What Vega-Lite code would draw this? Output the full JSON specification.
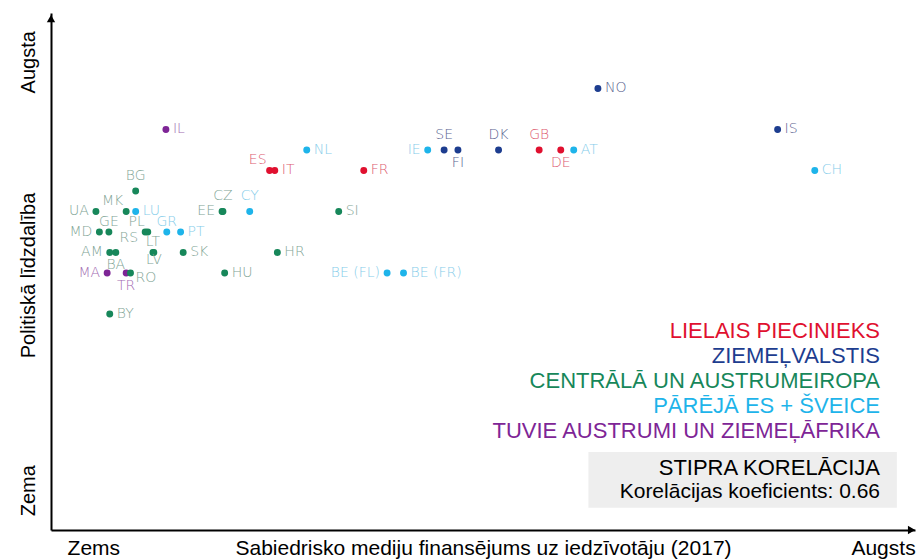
{
  "$schema": "https://vega.github.io/schema/vega-lite/v6.json",
  "width": 864,
  "height": 517,
  "autosize": {"type": "none"},
  "padding": {"left": 51, "top": 13, "right": 5, "bottom": 30},
  "background": "white",
  "config": {"view": {"stroke": null}},
  "data": {"values": [
    {"code": "NO", "group": "ZIEMEĻVALSTIS", "funding": 63.3, "participation": 21},
    {"code": "IS", "group": "ZIEMEĻVALSTIS", "funding": 84.1, "participation": 19},
    {"code": "IL", "group": "TUVIE AUSTRUMI UN ZIEMEĻĀFRIKA", "funding": 13.3, "participation": 19},
    {"code": "CH", "group": "PĀRĒJĀ ES + ŠVEICE", "funding": 88.4, "participation": 17},
    {"code": "NL", "group": "PĀRĒJĀ ES + ŠVEICE", "funding": 29.6, "participation": 18},
    {"code": "IE", "group": "PĀRĒJĀ ES + ŠVEICE", "funding": 43.6, "participation": 18},
    {"code": "SE", "group": "ZIEMEĻVALSTIS", "funding": 45.5, "participation": 18},
    {"code": "FI", "group": "ZIEMEĻVALSTIS", "funding": 47.1, "participation": 18},
    {"code": "DK", "group": "ZIEMEĻVALSTIS", "funding": 51.8, "participation": 18},
    {"code": "GB", "group": "LIELAIS PIECINIEKS", "funding": 56.5, "participation": 18},
    {"code": "DE", "group": "LIELAIS PIECINIEKS", "funding": 59.0, "participation": 18},
    {"code": "AT", "group": "PĀRĒJĀ ES + ŠVEICE", "funding": 60.5, "participation": 18},
    {"code": "ES", "group": "LIELAIS PIECINIEKS", "funding": 25.3, "participation": 17},
    {"code": "IT", "group": "LIELAIS PIECINIEKS", "funding": 25.9, "participation": 17},
    {"code": "FR", "group": "LIELAIS PIECINIEKS", "funding": 36.2, "participation": 17},
    {"code": "BG", "group": "CENTRĀLĀ UN AUSTRUMEIROPA", "funding": 9.8, "participation": 16},
    {"code": "UA", "group": "CENTRĀLĀ UN AUSTRUMEIROPA", "funding": 5.2, "participation": 15},
    {"code": "MK", "group": "CENTRĀLĀ UN AUSTRUMEIROPA", "funding": 8.7, "participation": 15},
    {"code": "LU", "group": "PĀRĒJĀ ES + ŠVEICE", "funding": 9.8, "participation": 15},
    {"code": "EE", "group": "CENTRĀLĀ UN AUSTRUMEIROPA", "funding": 19.8, "participation": 15},
    {"code": "CZ", "group": "CENTRĀLĀ UN AUSTRUMEIROPA", "funding": 19.9, "participation": 15},
    {"code": "CY", "group": "PĀRĒJĀ ES + ŠVEICE", "funding": 23.0, "participation": 15},
    {"code": "SI", "group": "CENTRĀLĀ UN AUSTRUMEIROPA", "funding": 33.3, "participation": 15},
    {"code": "MD", "group": "CENTRĀLĀ UN AUSTRUMEIROPA", "funding": 5.6, "participation": 14},
    {"code": "GE", "group": "CENTRĀLĀ UN AUSTRUMEIROPA", "funding": 6.7, "participation": 14},
    {"code": "RS", "group": "CENTRĀLĀ UN AUSTRUMEIROPA", "funding": 10.9, "participation": 14},
    {"code": "PL", "group": "CENTRĀLĀ UN AUSTRUMEIROPA", "funding": 11.2, "participation": 14},
    {"code": "GR", "group": "PĀRĒJĀ ES + ŠVEICE", "funding": 13.4, "participation": 14},
    {"code": "PT", "group": "PĀRĒJĀ ES + ŠVEICE", "funding": 15.0, "participation": 14},
    {"code": "AM", "group": "CENTRĀLĀ UN AUSTRUMEIROPA", "funding": 6.8, "participation": 13},
    {"code": "BA", "group": "CENTRĀLĀ UN AUSTRUMEIROPA", "funding": 7.5, "participation": 13},
    {"code": "LT", "group": "CENTRĀLĀ UN AUSTRUMEIROPA", "funding": 11.8, "participation": 13},
    {"code": "LV", "group": "CENTRĀLĀ UN AUSTRUMEIROPA", "funding": 11.9, "participation": 13},
    {"code": "SK", "group": "CENTRĀLĀ UN AUSTRUMEIROPA", "funding": 15.3, "participation": 13},
    {"code": "HR", "group": "CENTRĀLĀ UN AUSTRUMEIROPA", "funding": 26.2, "participation": 13},
    {"code": "MA", "group": "TUVIE AUSTRUMI UN ZIEMEĻĀFRIKA", "funding": 6.5, "participation": 12},
    {"code": "TR", "group": "TUVIE AUSTRUMI UN ZIEMEĻĀFRIKA", "funding": 8.7, "participation": 12},
    {"code": "RO", "group": "CENTRĀLĀ UN AUSTRUMEIROPA", "funding": 9.2, "participation": 12},
    {"code": "HU", "group": "CENTRĀLĀ UN AUSTRUMEIROPA", "funding": 20.1, "participation": 12},
    {"code": "BE (FL)", "group": "PĀRĒJĀ ES + ŠVEICE", "funding": 38.9, "participation": 12},
    {"code": "BE (FR)", "group": "PĀRĒJĀ ES + ŠVEICE", "funding": 40.8, "participation": 12},
    {"code": "BY", "group": "CENTRĀLĀ UN AUSTRUMEIROPA", "funding": 6.8, "participation": 10}
  ]},
  "layer": [
    {
      "mark": {"type": "circle", "opacity": 1, "size": 48},
      "encoding": {
        "x": {"field": "funding", "type": "quantitative", "scale": {"domain": [0, 100], "nice": false, "zero": false},
          "axis": {"values": [4.9, 96.3], "labelExpr": "datum.value < 50 ? 'Zems' : 'Augsts'", "grid": false, "ticks": false, "tickSize": 0,
            "domainColor": "black", "domainWidth": 2, "labelFont": "Liberation Sans", "labelFontSize": 21, "labelColor": "black",
            "labelBaseline": "middle", "labelPadding": 18, "labelAlign": "center", "labelFlush": false, "labelOverlap": false,
            "title": "Sabiedrisko mediju finansējums uz iedzīvotāju (2017)", "titleFont": "Liberation Sans", "titleFontSize": 21,
            "titleFontWeight": "normal", "titleColor": "black", "titleY": 18, "titleBaseline": "middle", "titleAnchor": "middle"}},
        "y": {"field": "participation", "type": "quantitative", "scale": {"domain": [-0.54, 24.68], "nice": false, "zero": false},
          "axis": {"values": [1.4, 22.3], "labelExpr": "datum.value < 10 ? 'Zema' : 'Augsta'", "grid": false, "ticks": false, "tickSize": 0,
            "domainColor": "black", "domainWidth": 2, "labelFont": "Liberation Sans", "labelFontSize": 20, "labelColor": "black",
            "labelAngle": -90, "labelAlign": "center", "labelBaseline": "middle", "labelPadding": 23, "labelFlush": false, "labelOverlap": false,
            "title": "Politiskā līdzdalība", "titleFont": "Liberation Sans", "titleFontSize": 20, "titleFontWeight": "normal", "titleColor": "black",
            "titleAngle": -90, "titleX": -23, "titleY": 262, "titleAlign": "center", "titleBaseline": "middle"}},
        "color": {"field": "group", "type": "nominal",
          "scale": {"domain": ["LIELAIS PIECINIEKS", "ZIEMEĻVALSTIS", "CENTRĀLĀ UN AUSTRUMEIROPA", "PĀRĒJĀ ES + ŠVEICE", "TUVIE AUSTRUMI UN ZIEMEĻĀFRIKA"],
            "range": ["#E0102F", "#1D3D8F", "#17875A", "#1EB4EA", "#7E2596"]},
          "legend": {"title": null, "orient": "none", "legendX": 807, "legendY": 307, "padding": 0,
            "symbolOpacity": 0, "symbolSize": 0, "symbolStrokeWidth": 0, "labelOffset": 0,
            "labelAlign": "right", "labelLimit": 600, "labelFont": "Liberation Sans", "labelFontSize": 22, "rowPadding": 3,
            "encode": {"labels": {"update": {"fill": {"scale": "color", "field": "value"}}}}}}
      }
    },
    {
      "transform": [{"filter": {"field": "code", "oneOf": ["NO", "IL", "IS", "NL", "IT", "FR", "CH", "SI", "HR", "HU", "SK", "BY", "AT", "LU", "PT", "BE (FR)"]}}],
      "mark": {"type": "text", "align": "left", "baseline": "middle", "dx": 7, "font": "DejaVu Sans", "fontWeight": 300, "fontSize": 14},
      "encoding": {"x": {"field": "funding", "type": "quantitative"}, "y": {"field": "participation", "type": "quantitative"}, "text": {"field": "code"},
        "fill": {"field": "group", "type": "nominal", "legend": null, "scale": {"domain": ["LIELAIS PIECINIEKS", "ZIEMEĻVALSTIS", "CENTRĀLĀ UN AUSTRUMEIROPA", "PĀRĒJĀ ES + ŠVEICE", "TUVIE AUSTRUMI UN ZIEMEĻĀFRIKA"], "range": ["#DD5A70", "#5A6390", "#7FA596", "#86CDEA", "#A36DB3"]}}}
    },
    {
      "transform": [{"filter": {"field": "code", "oneOf": ["RO"]}}],
      "mark": {"type": "text", "align": "left", "baseline": "middle", "dx": 5, "dy": 5, "font": "DejaVu Sans", "fontWeight": 300, "fontSize": 14},
      "encoding": {"x": {"field": "funding", "type": "quantitative"}, "y": {"field": "participation", "type": "quantitative"}, "text": {"field": "code"},
        "fill": {"field": "group", "type": "nominal", "legend": null}}
    },
    {
      "transform": [{"filter": {"field": "code", "oneOf": ["UA", "MD", "AM", "MA", "EE", "IE", "BE (FL)"]}}],
      "mark": {"type": "text", "align": "right", "baseline": "middle", "dx": -7, "font": "DejaVu Sans", "fontWeight": 300, "fontSize": 14},
      "encoding": {"x": {"field": "funding", "type": "quantitative"}, "y": {"field": "participation", "type": "quantitative"}, "text": {"field": "code"},
        "fill": {"field": "group", "type": "nominal", "legend": null}}
    },
    {
      "transform": [{"filter": {"field": "code", "oneOf": ["BG", "SE", "DK", "GB", "CZ", "CY"]}}],
      "mark": {"type": "text", "align": "center", "baseline": "middle", "dy": -15, "font": "DejaVu Sans", "fontWeight": 300, "fontSize": 14},
      "encoding": {"x": {"field": "funding", "type": "quantitative"}, "y": {"field": "participation", "type": "quantitative"}, "text": {"field": "code"},
        "fill": {"field": "group", "type": "nominal", "legend": null}}
    },
    {
      "transform": [{"filter": {"field": "code", "oneOf": ["GE", "GR", "LT"]}}],
      "mark": {"type": "text", "align": "center", "baseline": "middle", "dy": -10, "font": "DejaVu Sans", "fontWeight": 300, "fontSize": 14},
      "encoding": {"x": {"field": "funding", "type": "quantitative"}, "y": {"field": "participation", "type": "quantitative"}, "text": {"field": "code"},
        "fill": {"field": "group", "type": "nominal", "legend": null}}
    },
    {
      "transform": [{"filter": {"field": "code", "oneOf": ["ES", "MK", "PL"]}}],
      "mark": {"type": "text", "align": "right", "baseline": "middle", "dx": -3, "dy": -10, "font": "DejaVu Sans", "fontWeight": 300, "fontSize": 14},
      "encoding": {"x": {"field": "funding", "type": "quantitative"}, "y": {"field": "participation", "type": "quantitative"}, "text": {"field": "code"},
        "fill": {"field": "group", "type": "nominal", "legend": null}}
    },
    {
      "transform": [{"filter": {"field": "code", "oneOf": ["FI", "DE", "TR", "BA"]}}],
      "mark": {"type": "text", "align": "center", "baseline": "middle", "dy": 13, "font": "DejaVu Sans", "fontWeight": 300, "fontSize": 14},
      "encoding": {"x": {"field": "funding", "type": "quantitative"}, "y": {"field": "participation", "type": "quantitative"}, "text": {"field": "code"},
        "fill": {"field": "group", "type": "nominal", "legend": null}}
    },
    {
      "transform": [{"filter": {"field": "code", "oneOf": ["LV"]}}],
      "mark": {"type": "text", "align": "center", "baseline": "middle", "dy": 8, "font": "DejaVu Sans", "fontWeight": 300, "fontSize": 14},
      "encoding": {"x": {"field": "funding", "type": "quantitative"}, "y": {"field": "participation", "type": "quantitative"}, "text": {"field": "code"},
        "fill": {"field": "group", "type": "nominal", "legend": null}}
    },
    {
      "transform": [{"filter": {"field": "code", "oneOf": ["RS"]}}],
      "mark": {"type": "text", "align": "right", "baseline": "middle", "dx": -7, "dy": 6, "font": "DejaVu Sans", "fontWeight": 300, "fontSize": 14},
      "encoding": {"x": {"field": "funding", "type": "quantitative"}, "y": {"field": "participation", "type": "quantitative"}, "text": {"field": "code"},
        "fill": {"field": "group", "type": "nominal", "legend": null}}
    },
    {
      "data": {"values": [{}]},
      "mark": {"type": "rect", "color": "#EEEEEE"},
      "encoding": {"x": {"datum": 62.2}, "x2": {"datum": 97.9}, "y": {"datum": 3.27}, "y2": {"datum": 0.54}}
    },
    {
      "data": {"values": [{}]},
      "mark": {"type": "text", "align": "right", "baseline": "middle", "font": "Liberation Sans", "fontSize": 22, "color": "black", "text": "STIPRA KORELĀCIJA"},
      "encoding": {"x": {"datum": 95.95}, "y": {"datum": 2.49}}
    },
    {
      "data": {"values": [{}]},
      "mark": {"type": "text", "align": "right", "baseline": "middle", "font": "Liberation Sans", "fontSize": 21, "color": "black", "text": "Korelācijas koeficients: 0.66"},
      "encoding": {"x": {"datum": 95.95}, "y": {"datum": 1.32}}
    },
    {
      "data": {"values": [{}]},
      "mark": {"type": "point", "shape": "triangle-up", "filled": true, "color": "black", "size": 70, "opacity": 1},
      "encoding": {"x": {"datum": 0}, "y": {"datum": 24.4}}
    },
    {
      "data": {"values": [{}]},
      "mark": {"type": "point", "shape": "triangle-right", "filled": true, "color": "black", "size": 70, "opacity": 1},
      "encoding": {"x": {"datum": 99.6}, "y": {"datum": -0.54}}
    }
  ]
}
